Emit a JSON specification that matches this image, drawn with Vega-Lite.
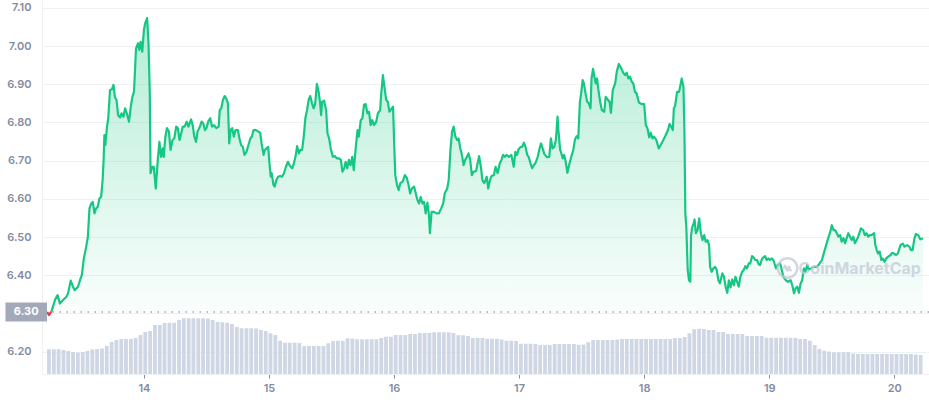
{
"$schema": "https://vega.github.io/schema/vega-lite/v6.json",
"width": 887, "height": 374,
"autosize": {"type": "none"},
"padding": {"left": 42, "top": 0, "right": 0, "bottom": 26},
"background": "white",
"config": {"view": {"stroke": null}, "font": "Inter"},
"datasets": {
"price": [
{"d":13.226,"p":6.304},{"d":13.241,"p":6.296},{"d":13.262,"p":6.306},{"d":13.289,"p":6.335},{"d":13.310,"p":6.348},{"d":13.328,"p":6.326},{"d":13.354,"p":6.335},{"d":13.381,"p":6.344},{"d":13.394,"p":6.353},{"d":13.415,"p":6.386},{"d":13.433,"p":6.370},{"d":13.447,"p":6.361},{"d":13.473,"p":6.370},{"d":13.494,"p":6.392},{"d":13.504,"p":6.401},{"d":13.520,"p":6.444},{"d":13.539,"p":6.475},{"d":13.552,"p":6.501},{"d":13.565,"p":6.575},{"d":13.579,"p":6.588},{"d":13.591,"p":6.592},{"d":13.605,"p":6.562},{"d":13.618,"p":6.575},{"d":13.631,"p":6.579},{"d":13.644,"p":6.601},{"d":13.658,"p":6.605},{"d":13.670,"p":6.649},{"d":13.678,"p":6.702},{"d":13.684,"p":6.767},{"d":13.692,"p":6.741},{"d":13.705,"p":6.789},{"d":13.715,"p":6.811},{"d":13.729,"p":6.885},{"d":13.745,"p":6.887},{"d":13.757,"p":6.898},{"d":13.768,"p":6.866},{"d":13.781,"p":6.859},{"d":13.794,"p":6.819},{"d":13.810,"p":6.813},{"d":13.821,"p":6.824},{"d":13.836,"p":6.815},{"d":13.850,"p":6.837},{"d":13.863,"p":6.824},{"d":13.881,"p":6.802},{"d":13.895,"p":6.841},{"d":13.908,"p":6.867},{"d":13.921,"p":6.880},{"d":13.937,"p":6.994},{"d":13.953,"p":7.007},{"d":13.963,"p":6.990},{"d":13.974,"p":7.011},{"d":13.987,"p":6.985},{"d":14.000,"p":7.042},{"d":14.010,"p":7.059},{"d":14.026,"p":7.073},{"d":14.037,"p":7.007},{"d":14.047,"p":6.876},{"d":14.053,"p":6.667},{"d":14.066,"p":6.684},{"d":14.079,"p":6.684},{"d":14.095,"p":6.627},{"d":14.111,"p":6.702},{"d":14.124,"p":6.749},{"d":14.137,"p":6.710},{"d":14.150,"p":6.732},{"d":14.158,"p":6.710},{"d":14.172,"p":6.763},{"d":14.184,"p":6.785},{"d":14.200,"p":6.776},{"d":14.213,"p":6.728},{"d":14.229,"p":6.754},{"d":14.243,"p":6.758},{"d":14.258,"p":6.789},{"d":14.271,"p":6.785},{"d":14.285,"p":6.754},{"d":14.295,"p":6.767},{"d":14.311,"p":6.789},{"d":14.326,"p":6.789},{"d":14.342,"p":6.802},{"d":14.356,"p":6.789},{"d":14.377,"p":6.808},{"d":14.390,"p":6.793},{"d":14.403,"p":6.763},{"d":14.417,"p":6.749},{"d":14.429,"p":6.776},{"d":14.448,"p":6.789},{"d":14.461,"p":6.802},{"d":14.474,"p":6.798},{"d":14.488,"p":6.780},{"d":14.500,"p":6.785},{"d":14.514,"p":6.802},{"d":14.530,"p":6.811},{"d":14.545,"p":6.789},{"d":14.561,"p":6.793},{"d":14.579,"p":6.785},{"d":14.598,"p":6.789},{"d":14.606,"p":6.832},{"d":14.619,"p":6.837},{"d":14.632,"p":6.859},{"d":14.646,"p":6.869},{"d":14.658,"p":6.863},{"d":14.672,"p":6.850},{"d":14.682,"p":6.745},{"d":14.693,"p":6.780},{"d":14.706,"p":6.785},{"d":14.719,"p":6.763},{"d":14.733,"p":6.780},{"d":14.751,"p":6.780},{"d":14.764,"p":6.758},{"d":14.777,"p":6.741},{"d":14.791,"p":6.736},{"d":14.804,"p":6.715},{"d":14.820,"p":6.723},{"d":14.836,"p":6.741},{"d":14.851,"p":6.758},{"d":14.864,"p":6.763},{"d":14.877,"p":6.780},{"d":14.896,"p":6.780},{"d":14.915,"p":6.776},{"d":14.930,"p":6.773},{"d":14.941,"p":6.745},{"d":14.957,"p":6.715},{"d":14.967,"p":6.728},{"d":14.980,"p":6.732},{"d":14.994,"p":6.736},{"d":15.004,"p":6.693},{"d":15.014,"p":6.658},{"d":15.022,"p":6.667},{"d":15.036,"p":6.636},{"d":15.046,"p":6.632},{"d":15.059,"p":6.649},{"d":15.073,"p":6.658},{"d":15.089,"p":6.660},{"d":15.104,"p":6.658},{"d":15.120,"p":6.667},{"d":15.136,"p":6.684},{"d":15.152,"p":6.697},{"d":15.168,"p":6.686},{"d":15.186,"p":6.680},{"d":15.199,"p":6.693},{"d":15.212,"p":6.710},{"d":15.225,"p":6.738},{"d":15.239,"p":6.719},{"d":15.251,"p":6.728},{"d":15.265,"p":6.728},{"d":15.278,"p":6.763},{"d":15.291,"p":6.811},{"d":15.304,"p":6.832},{"d":15.318,"p":6.860},{"d":15.330,"p":6.869},{"d":15.344,"p":6.850},{"d":15.357,"p":6.837},{"d":15.370,"p":6.850},{"d":15.383,"p":6.901},{"d":15.397,"p":6.880},{"d":15.409,"p":6.850},{"d":15.417,"p":6.819},{"d":15.425,"p":6.854},{"d":15.441,"p":6.857},{"d":15.457,"p":6.832},{"d":15.468,"p":6.771},{"d":15.481,"p":6.758},{"d":15.494,"p":6.732},{"d":15.510,"p":6.710},{"d":15.528,"p":6.712},{"d":15.542,"p":6.706},{"d":15.560,"p":6.706},{"d":15.575,"p":6.702},{"d":15.587,"p":6.671},{"d":15.602,"p":6.680},{"d":15.613,"p":6.697},{"d":15.626,"p":6.680},{"d":15.639,"p":6.702},{"d":15.652,"p":6.688},{"d":15.666,"p":6.710},{"d":15.678,"p":6.675},{"d":15.692,"p":6.728},{"d":15.708,"p":6.780},{"d":15.718,"p":6.763},{"d":15.734,"p":6.806},{"d":15.747,"p":6.811},{"d":15.760,"p":6.846},{"d":15.773,"p":6.848},{"d":15.787,"p":6.824},{"d":15.800,"p":6.828},{"d":15.813,"p":6.793},{"d":15.826,"p":6.806},{"d":15.840,"p":6.793},{"d":15.858,"p":6.802},{"d":15.871,"p":6.824},{"d":15.889,"p":6.832},{"d":15.897,"p":6.872},{"d":15.911,"p":6.924},{"d":15.923,"p":6.893},{"d":15.937,"p":6.859},{"d":15.950,"p":6.854},{"d":15.963,"p":6.828},{"d":15.976,"p":6.834},{"d":15.992,"p":6.841},{"d":16.002,"p":6.736},{"d":16.010,"p":6.662},{"d":16.024,"p":6.636},{"d":16.037,"p":6.623},{"d":16.050,"p":6.641},{"d":16.069,"p":6.645},{"d":16.087,"p":6.662},{"d":16.103,"p":6.654},{"d":16.116,"p":6.636},{"d":16.129,"p":6.614},{"d":16.142,"p":6.627},{"d":16.160,"p":6.632},{"d":16.174,"p":6.614},{"d":16.187,"p":6.597},{"d":16.200,"p":6.588},{"d":16.213,"p":6.605},{"d":16.227,"p":6.588},{"d":16.240,"p":6.592},{"d":16.253,"p":6.562},{"d":16.267,"p":6.590},{"d":16.279,"p":6.558},{"d":16.287,"p":6.510},{"d":16.300,"p":6.566},{"d":16.319,"p":6.566},{"d":16.340,"p":6.562},{"d":16.358,"p":6.562},{"d":16.377,"p":6.575},{"d":16.393,"p":6.588},{"d":16.405,"p":6.614},{"d":16.425,"p":6.627},{"d":16.437,"p":6.649},{"d":16.451,"p":6.728},{"d":16.464,"p":6.776},{"d":16.477,"p":6.789},{"d":16.490,"p":6.763},{"d":16.504,"p":6.754},{"d":16.516,"p":6.758},{"d":16.530,"p":6.732},{"d":16.543,"p":6.715},{"d":16.556,"p":6.688},{"d":16.569,"p":6.702},{"d":16.583,"p":6.710},{"d":16.595,"p":6.719},{"d":16.609,"p":6.702},{"d":16.622,"p":6.662},{"d":16.635,"p":6.671},{"d":16.656,"p":6.673},{"d":16.680,"p":6.712},{"d":16.696,"p":6.680},{"d":16.706,"p":6.649},{"d":16.722,"p":6.641},{"d":16.741,"p":6.658},{"d":16.753,"p":6.627},{"d":16.767,"p":6.649},{"d":16.780,"p":6.660},{"d":16.798,"p":6.662},{"d":16.812,"p":6.684},{"d":16.828,"p":6.667},{"d":16.846,"p":6.693},{"d":16.859,"p":6.702},{"d":16.872,"p":6.715},{"d":16.885,"p":6.710},{"d":16.899,"p":6.715},{"d":16.919,"p":6.710},{"d":16.938,"p":6.715},{"d":16.957,"p":6.684},{"d":16.970,"p":6.723},{"d":16.983,"p":6.715},{"d":16.996,"p":6.730},{"d":17.012,"p":6.736},{"d":17.025,"p":6.736},{"d":17.038,"p":6.747},{"d":17.051,"p":6.736},{"d":17.065,"p":6.715},{"d":17.077,"p":6.709},{"d":17.091,"p":6.693},{"d":17.104,"p":6.680},{"d":17.117,"p":6.688},{"d":17.130,"p":6.693},{"d":17.149,"p":6.710},{"d":17.162,"p":6.730},{"d":17.175,"p":6.745},{"d":17.188,"p":6.732},{"d":17.202,"p":6.717},{"d":17.223,"p":6.709},{"d":17.241,"p":6.710},{"d":17.254,"p":6.758},{"d":17.267,"p":6.732},{"d":17.281,"p":6.736},{"d":17.294,"p":6.754},{"d":17.307,"p":6.815},{"d":17.314,"p":6.780},{"d":17.328,"p":6.728},{"d":17.338,"p":6.719},{"d":17.349,"p":6.706},{"d":17.360,"p":6.715},{"d":17.370,"p":6.702},{"d":17.386,"p":6.668},{"d":17.399,"p":6.688},{"d":17.417,"p":6.710},{"d":17.433,"p":6.728},{"d":17.447,"p":6.756},{"d":17.460,"p":6.764},{"d":17.473,"p":6.758},{"d":17.486,"p":6.854},{"d":17.496,"p":6.876},{"d":17.508,"p":6.911},{"d":17.518,"p":6.902},{"d":17.531,"p":6.876},{"d":17.544,"p":6.854},{"d":17.557,"p":6.850},{"d":17.571,"p":6.837},{"d":17.579,"p":6.915},{"d":17.591,"p":6.940},{"d":17.602,"p":6.920},{"d":17.613,"p":6.902},{"d":17.623,"p":6.915},{"d":17.634,"p":6.885},{"d":17.650,"p":6.850},{"d":17.662,"p":6.832},{"d":17.681,"p":6.828},{"d":17.692,"p":6.867},{"d":17.708,"p":6.860},{"d":17.723,"p":6.854},{"d":17.734,"p":6.825},{"d":17.749,"p":6.885},{"d":17.768,"p":6.902},{"d":17.781,"p":6.933},{"d":17.797,"p":6.953},{"d":17.816,"p":6.942},{"d":17.834,"p":6.929},{"d":17.847,"p":6.924},{"d":17.860,"p":6.930},{"d":17.874,"p":6.915},{"d":17.887,"p":6.920},{"d":17.900,"p":6.907},{"d":17.913,"p":6.902},{"d":17.926,"p":6.880},{"d":17.939,"p":6.876},{"d":17.958,"p":6.852},{"d":17.979,"p":6.848},{"d":18.000,"p":6.848},{"d":18.013,"p":6.793},{"d":18.026,"p":6.785},{"d":18.040,"p":6.761},{"d":18.053,"p":6.773},{"d":18.066,"p":6.758},{"d":18.079,"p":6.763},{"d":18.097,"p":6.754},{"d":18.116,"p":6.732},{"d":18.132,"p":6.741},{"d":18.150,"p":6.752},{"d":18.168,"p":6.764},{"d":18.190,"p":6.780},{"d":18.203,"p":6.796},{"d":18.216,"p":6.789},{"d":18.229,"p":6.780},{"d":18.237,"p":6.837},{"d":18.247,"p":6.843},{"d":18.263,"p":6.880},{"d":18.279,"p":6.880},{"d":18.290,"p":6.898},{"d":18.300,"p":6.915},{"d":18.314,"p":6.893},{"d":18.322,"p":6.771},{"d":18.329,"p":6.562},{"d":18.337,"p":6.527},{"d":18.348,"p":6.414},{"d":18.358,"p":6.387},{"d":18.369,"p":6.383},{"d":18.374,"p":6.501},{"d":18.382,"p":6.523},{"d":18.395,"p":6.536},{"d":18.403,"p":6.546},{"d":18.413,"p":6.510},{"d":18.427,"p":6.518},{"d":18.440,"p":6.549},{"d":18.453,"p":6.510},{"d":18.466,"p":6.492},{"d":18.480,"p":6.505},{"d":18.492,"p":6.488},{"d":18.506,"p":6.492},{"d":18.519,"p":6.479},{"d":18.527,"p":6.422},{"d":18.540,"p":6.409},{"d":18.553,"p":6.418},{"d":18.567,"p":6.422},{"d":18.580,"p":6.414},{"d":18.593,"p":6.387},{"d":18.606,"p":6.379},{"d":18.625,"p":6.405},{"d":18.638,"p":6.396},{"d":18.651,"p":6.370},{"d":18.664,"p":6.354},{"d":18.677,"p":6.387},{"d":18.690,"p":6.368},{"d":18.704,"p":6.389},{"d":18.717,"p":6.374},{"d":18.730,"p":6.396},{"d":18.743,"p":6.383},{"d":18.756,"p":6.370},{"d":18.769,"p":6.396},{"d":18.783,"p":6.409},{"d":18.796,"p":6.414},{"d":18.809,"p":6.424},{"d":18.822,"p":6.418},{"d":18.836,"p":6.431},{"d":18.848,"p":6.431},{"d":18.862,"p":6.450},{"d":18.875,"p":6.447},{"d":18.888,"p":6.440},{"d":18.902,"p":6.440},{"d":18.915,"p":6.429},{"d":18.927,"p":6.427},{"d":18.941,"p":6.442},{"d":18.954,"p":6.447},{"d":18.967,"p":6.450},{"d":18.980,"p":6.440},{"d":18.994,"p":6.444},{"d":19.006,"p":6.440},{"d":19.020,"p":6.444},{"d":19.033,"p":6.440},{"d":19.054,"p":6.418},{"d":19.066,"p":6.427},{"d":19.087,"p":6.431},{"d":19.100,"p":6.414},{"d":19.113,"p":6.396},{"d":19.132,"p":6.387},{"d":19.150,"p":6.383},{"d":19.171,"p":6.387},{"d":19.184,"p":6.374},{"d":19.198,"p":6.353},{"d":19.211,"p":6.366},{"d":19.224,"p":6.370},{"d":19.237,"p":6.354},{"d":19.251,"p":6.379},{"d":19.263,"p":6.387},{"d":19.277,"p":6.418},{"d":19.290,"p":6.409},{"d":19.303,"p":6.427},{"d":19.316,"p":6.415},{"d":19.334,"p":6.418},{"d":19.356,"p":6.422},{"d":19.377,"p":6.422},{"d":19.395,"p":6.427},{"d":19.421,"p":6.440},{"d":19.448,"p":6.471},{"d":19.474,"p":6.500},{"d":19.488,"p":6.514},{"d":19.500,"p":6.531},{"d":19.514,"p":6.518},{"d":19.527,"p":6.518},{"d":19.540,"p":6.510},{"d":19.553,"p":6.501},{"d":19.567,"p":6.505},{"d":19.579,"p":6.488},{"d":19.593,"p":6.497},{"d":19.606,"p":6.484},{"d":19.619,"p":6.497},{"d":19.632,"p":6.510},{"d":19.646,"p":6.501},{"d":19.659,"p":6.492},{"d":19.672,"p":6.501},{"d":19.685,"p":6.484},{"d":19.698,"p":6.492},{"d":19.711,"p":6.501},{"d":19.733,"p":6.523},{"d":19.751,"p":6.518},{"d":19.764,"p":6.505},{"d":19.778,"p":6.510},{"d":19.791,"p":6.501},{"d":19.804,"p":6.505},{"d":19.817,"p":6.505},{"d":19.838,"p":6.510},{"d":19.848,"p":6.479},{"d":19.859,"p":6.466},{"d":19.870,"p":6.457},{"d":19.883,"p":6.462},{"d":19.896,"p":6.440},{"d":19.909,"p":6.444},{"d":19.923,"p":6.435},{"d":19.935,"p":6.444},{"d":19.949,"p":6.448},{"d":19.970,"p":6.453},{"d":19.983,"p":6.459},{"d":19.996,"p":6.457},{"d":20.014,"p":6.453},{"d":20.028,"p":6.457},{"d":20.049,"p":6.479},{"d":20.067,"p":6.483},{"d":20.081,"p":6.475},{"d":20.101,"p":6.479},{"d":20.120,"p":6.475},{"d":20.133,"p":6.466},{"d":20.146,"p":6.466},{"d":20.159,"p":6.494},{"d":20.172,"p":6.508},{"d":20.191,"p":6.505},{"d":20.207,"p":6.494},{"d":20.229,"p":6.497}
],
"volume": [
{"d":13.241,"v":99},{"d":13.280,"v":99},{"d":13.318,"v":99},{"d":13.357,"v":96},{"d":13.395,"v":92},{"d":13.434,"v":88},{"d":13.472,"v":86},{"d":13.511,"v":88},{"d":13.549,"v":92},{"d":13.588,"v":98},{"d":13.626,"v":100},{"d":13.665,"v":102},{"d":13.703,"v":112},{"d":13.742,"v":128},{"d":13.780,"v":136},{"d":13.819,"v":140},{"d":13.857,"v":140},{"d":13.896,"v":140},{"d":13.934,"v":144},{"d":13.973,"v":156},{"d":14.011,"v":168},{"d":14.050,"v":172},{"d":14.088,"v":196},{"d":14.127,"v":196},{"d":14.165,"v":204},{"d":14.204,"v":205},{"d":14.242,"v":205},{"d":14.281,"v":216},{"d":14.319,"v":223},{"d":14.358,"v":223},{"d":14.396,"v":223},{"d":14.435,"v":223},{"d":14.473,"v":223},{"d":14.512,"v":222},{"d":14.550,"v":216},{"d":14.589,"v":208},{"d":14.627,"v":207},{"d":14.666,"v":205},{"d":14.704,"v":200},{"d":14.743,"v":188},{"d":14.781,"v":183},{"d":14.820,"v":183},{"d":14.858,"v":183},{"d":14.897,"v":182},{"d":14.935,"v":176},{"d":14.974,"v":172},{"d":15.012,"v":163},{"d":15.051,"v":156},{"d":15.089,"v":133},{"d":15.128,"v":125},{"d":15.166,"v":125},{"d":15.205,"v":125},{"d":15.243,"v":124},{"d":15.282,"v":112},{"d":15.320,"v":112},{"d":15.359,"v":112},{"d":15.397,"v":112},{"d":15.436,"v":112},{"d":15.474,"v":123},{"d":15.513,"v":132},{"d":15.551,"v":133},{"d":15.590,"v":133},{"d":15.628,"v":143},{"d":15.667,"v":142},{"d":15.705,"v":139},{"d":15.744,"v":139},{"d":15.782,"v":139},{"d":15.821,"v":139},{"d":15.859,"v":139},{"d":15.898,"v":144},{"d":15.936,"v":149},{"d":15.975,"v":149},{"d":16.013,"v":156},{"d":16.052,"v":156},{"d":16.090,"v":156},{"d":16.129,"v":160},{"d":16.167,"v":160},{"d":16.206,"v":164},{"d":16.244,"v":164},{"d":16.283,"v":164},{"d":16.321,"v":167},{"d":16.360,"v":167},{"d":16.398,"v":167},{"d":16.437,"v":167},{"d":16.475,"v":164},{"d":16.514,"v":155},{"d":16.552,"v":155},{"d":16.591,"v":152},{"d":16.629,"v":144},{"d":16.668,"v":144},{"d":16.706,"v":144},{"d":16.745,"v":141},{"d":16.783,"v":141},{"d":16.822,"v":141},{"d":16.860,"v":138},{"d":16.899,"v":133},{"d":16.937,"v":133},{"d":16.976,"v":132},{"d":17.014,"v":121},{"d":17.053,"v":121},{"d":17.091,"v":121},{"d":17.130,"v":120},{"d":17.168,"v":116},{"d":17.207,"v":116},{"d":17.245,"v":116},{"d":17.284,"v":120},{"d":17.322,"v":120},{"d":17.361,"v":120},{"d":17.399,"v":120},{"d":17.438,"v":120},{"d":17.476,"v":117},{"d":17.515,"v":118},{"d":17.553,"v":127},{"d":17.592,"v":136},{"d":17.630,"v":136},{"d":17.669,"v":136},{"d":17.707,"v":136},{"d":17.746,"v":136},{"d":17.784,"v":138},{"d":17.823,"v":140},{"d":17.861,"v":140},{"d":17.900,"v":140},{"d":17.938,"v":140},{"d":17.977,"v":140},{"d":18.015,"v":140},{"d":18.054,"v":140},{"d":18.092,"v":140},{"d":18.131,"v":140},{"d":18.169,"v":140},{"d":18.208,"v":140},{"d":18.246,"v":144},{"d":18.285,"v":144},{"d":18.323,"v":148},{"d":18.362,"v":163},{"d":18.400,"v":179},{"d":18.439,"v":181},{"d":18.477,"v":180},{"d":18.516,"v":176},{"d":18.554,"v":176},{"d":18.593,"v":168},{"d":18.631,"v":168},{"d":18.670,"v":160},{"d":18.708,"v":160},{"d":18.747,"v":160},{"d":18.785,"v":160},{"d":18.824,"v":152},{"d":18.862,"v":152},{"d":18.901,"v":152},{"d":18.939,"v":152},{"d":18.978,"v":145},{"d":19.016,"v":145},{"d":19.055,"v":145},{"d":19.093,"v":145},{"d":19.132,"v":145},{"d":19.170,"v":145},{"d":19.209,"v":144},{"d":19.247,"v":140},{"d":19.286,"v":140},{"d":19.324,"v":133},{"d":19.363,"v":116},{"d":19.401,"v":100},{"d":19.440,"v":93},{"d":19.478,"v":90},{"d":19.517,"v":87},{"d":19.555,"v":87},{"d":19.594,"v":87},{"d":19.632,"v":87},{"d":19.671,"v":82},{"d":19.709,"v":80},{"d":19.748,"v":80},{"d":19.786,"v":80},{"d":19.825,"v":80},{"d":19.863,"v":80},{"d":19.902,"v":80},{"d":19.940,"v":80},{"d":19.979,"v":80},{"d":20.017,"v":80},{"d":20.056,"v":80},{"d":20.094,"v":80},{"d":20.133,"v":80},{"d":20.171,"v":78},{"d":20.210,"v":76}
]
},
"layer": [
{
"data": {"name": "volume"},
"mark": {"type": "bar", "width": 3.8, "color": "#cfd6e4"},
"encoding": {
"x": {"field": "d", "type": "quantitative", "scale": {"domain": [13.2253, 20.2372], "nice": false, "zero": false},
"axis": {"values": [14,15,16,17,18,19,20], "format": "d", "title": null, "grid": false, "tickSize": 4, "tickColor": "#858ca2", "domainColor": "#eff2f5", "labelColor": "#858ca2", "labelFont": "Inter", "labelFontSize": 11, "labelFontWeight": 600, "labelPadding": 4}},
"y": {"field": "v", "type": "quantitative", "scale": {"domain": [0, 1496], "nice": false}, "axis": null}
}
},
{
"data": {"name": "price"},
"layer": [
{
"mark": {"type": "area", "color": {"gradient": "linear", "x1": 0, "y1": 0, "x2": 0, "y2": 1, "stops": [{"offset": 0, "color": "rgba(22,199,132,0.32)"}, {"offset": 1, "color": "rgba(22,199,132,0.02)"}]}},
"encoding": {
"x": {"field": "d", "type": "quantitative"},
"y": {"field": "p", "type": "quantitative", "scale": {"domain": [6.1416, 7.1204], "nice": false, "zero": false},
"axis": {"values": [6.2,6.3,6.4,6.5,6.6,6.7,6.8,6.9,7.0,7.1], "format": ".2f", "labelExpr": "abs(datum.value - 6.3) < 0.001 ? '' : datum.label", "title": null, "grid": true, "gridColor": "#eff2f5", "ticks": false, "domainColor": "#eff2f5", "labelPadding": 11, "labelColor": "#858ca2", "labelFont": "Inter", "labelFontSize": 11, "labelFontWeight": 600}},
"y2": {"datum": 6.304}
}
},
{
"mark": {"type": "line", "strokeWidth": 2.2, "strokeJoin": "round", "stroke": {"gradient": "linear", "x1": 0, "y1": 0, "x2": 0, "y2": 1, "stops": [{"offset": 0, "color": "#16c784"}, {"offset": 0.9885, "color": "#16c784"}, {"offset": 0.9895, "color": "#ea3943"}, {"offset": 1, "color": "#ea3943"}]}},
"encoding": {
"x": {"field": "d", "type": "quantitative"},
"y": {"field": "p", "type": "quantitative"}
}
},
{
"data": {"values": [{"label": "6.30"}]},
"mark": {"type": "rule", "strokeDash": [1.5, 5.5], "color": "#a0a6b3", "strokeWidth": 1.5},
"encoding": {"y": {"datum": 6.304}}
},
{
"data": {"values": [{"label": "6.30"}]},
"mark": {"type": "rect", "color": "#a3a9b8"},
"encoding": {"x": {"datum": 12.8933}, "x2": {"datum": 13.2253}, "y": {"datum": 6.279}, "y2": {"datum": 6.329}}
},
{
"data": {"values": [{"label": "6.30"}]},
"mark": {"type": "text", "color": "white", "fontSize": 11, "fontWeight": 700, "font": "Inter", "align": "center", "baseline": "middle"},
"encoding": {"x": {"datum": 13.0593}, "y": {"datum": 6.304}, "text": {"field": "label"}}
},
{
"data": {"values": [{"label": "CoinMarketCap"}]},
"mark": {"type": "text", "color": "#c3cad8", "opacity": 0.75, "fontSize": 16, "fontWeight": 700, "font": "Inter", "align": "center", "baseline": "middle"},
"encoding": {"x": {"datum": 19.7233}, "y": {"datum": 6.4155}, "text": {"field": "label"}}
},
{
"data": {"values": [{"label": "logo"}]},
"mark": {"type": "point", "shape": "circle", "size": 380, "filled": false, "strokeWidth": 2.5, "color": "#c3cad8", "opacity": 0.75},
"encoding": {"x": {"datum": 19.146}, "y": {"datum": 6.419}}
},
{
"data": {"values": [{"label": "logo"}]},
"mark": {"type": "point", "shape": "M-0.55,0.15 C-0.45,-0.5 -0.35,-0.5 -0.2,0.1 C-0.05,0.55 0.05,0.55 0.15,0.05 L0.25,-0.35 C0.35,0.45 0.45,0.45 0.6,0.2", "size": 160, "filled": false, "strokeWidth": 2.5, "color": "#c3cad8", "opacity": 0.75},
"encoding": {"x": {"datum": 19.146}, "y": {"datum": 6.419}}
}
]
}
],
"resolve": {"scale": {"y": "independent"}}
}
